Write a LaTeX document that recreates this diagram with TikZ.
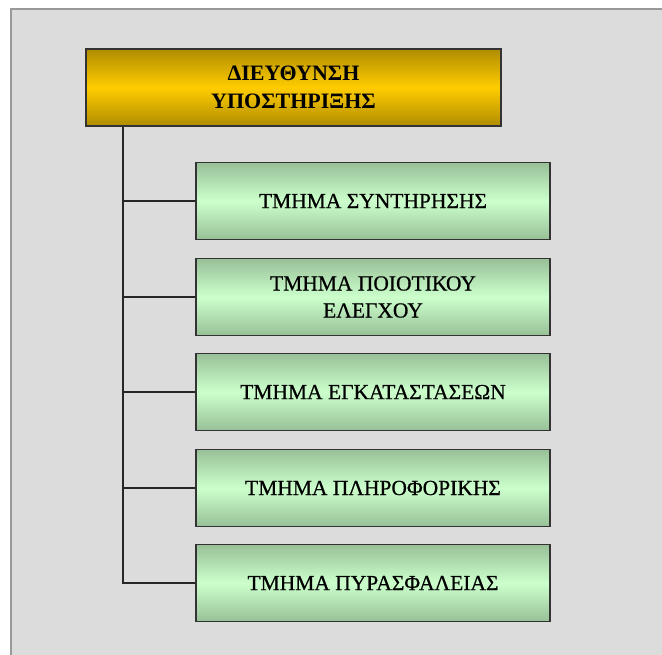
\documentclass[tikz,border=0pt]{standalone}
\usepackage{fontspec}
\setmainfont{Liberation Serif}
\newfontfamily\deptfont{Liberation Serif}[FakeBold=0.6]
\begin{document}
\begin{tikzpicture}[x=1pt,y=-1pt,
  headbox/.style={draw=black!80, line width=1.2pt, minimum width=415pt, minimum height=77pt,
    top color=gold1, bottom color=gold1, middle color=gold2, inner sep=0pt, align=center,
    font=\fontsize{22}{28}\selectfont\bfseries},
  deptbox/.style={draw=black!80, line width=1.2pt, minimum width=354pt, minimum height=77pt,
    top color=green1, bottom color=green1, middle color=green2, inner sep=0pt, align=center,
    font=\deptfont\fontsize{21.5}{27}\selectfont},
  conn/.style={draw=black!85, line width=1.4pt}]
\definecolor{gold1}{HTML}{B08C00}
\definecolor{gold2}{HTML}{FFCC00}
\definecolor{green1}{HTML}{98C098}
\definecolor{green2}{HTML}{CCFFCC}
\definecolor{panel}{HTML}{DCDCDC}
\definecolor{panelborder}{HTML}{999999}
\useasboundingbox (0,0) rectangle (662,655);
\fill[white] (0,0) rectangle (662,655);
\fill[panel] (10,8) rectangle (662,655);
\draw[panelborder, line width=2pt] (11,655) -- (11,9) -- (662,9);
\node[headbox] (top) at (293.5,87.5) {ΔΙΕΥΘΥΝΣΗ\\ΥΠΟΣΤΗΡΙΞΗΣ};
\node[deptbox] (b1) at (373,201) {ΤΜΗΜΑ ΣΥΝΤΗΡΗΣΗΣ};
\node[deptbox] (b2) at (373,297) {ΤΜΗΜΑ ΠΟΙΟΤΙΚΟΥ\\ΕΛΕΓΧΟΥ};
\node[deptbox] (b3) at (373,392) {ΤΜΗΜΑ ΕΓΚΑΤΑΣΤΑΣΕΩΝ};
\node[deptbox] (b4) at (373,488) {ΤΜΗΜΑ ΠΛΗΡΟΦΟΡΙΚΗΣ};
\node[deptbox] (b5) at (373,583) {ΤΜΗΜΑ ΠΥΡΑΣΦΑΛΕΙΑΣ};
\coordinate (tx) at (123,0);
\draw[conn] (tx |- top.south) -- (tx |- b5.west) -- (b5.west);
\draw[conn] (tx |- b1.west) -- (b1.west);
\draw[conn] (tx |- b2.west) -- (b2.west);
\draw[conn] (tx |- b3.west) -- (b3.west);
\draw[conn] (tx |- b4.west) -- (b4.west);
\end{tikzpicture}
\end{document}
